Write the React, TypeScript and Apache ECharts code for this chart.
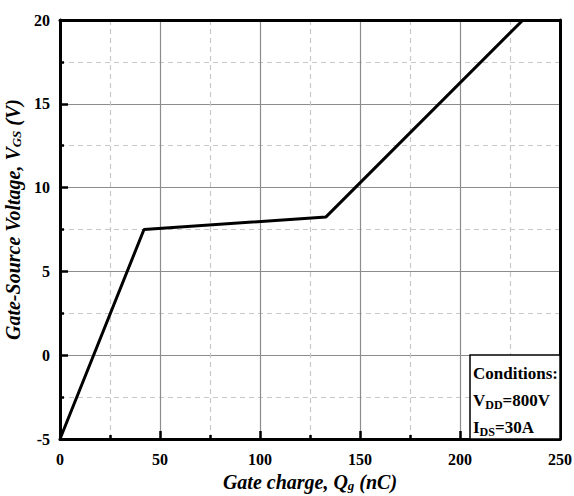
import React, { useEffect, useRef } from "react";
import * as echarts from "echarts";

const gateCharge = [0, 42, 133, 231.5];
const gateVoltage = [-5, 7.5, 8.25, 20];
const xTicks = [0, 50, 100, 150, 200, 250];
const yTicks = [-5, 0, 5, 10, 15, 20];
const conditionLines = ["Conditions:", "V_DD=800V", "I_DS=30A"];

const FONT = "Liberation Serif";

export default function App() {
  const ref = useRef<HTMLDivElement>(null);
  useEffect(() => {
    if (!ref.current) return;
    const chart = echarts.init(ref.current, null, { renderer: "svg" });
    const baseAxis = {
      type: "value" as const,
      axisLine: { show: true, onZero: false, lineStyle: { color: "#000", width: 3 } },
      axisTick: { show: true, inside: true, length: 8, lineStyle: { color: "#000", width: 2.5 } },
      minorTick: { show: true, splitNumber: 2, length: 4, lineStyle: { color: "#000", width: 2.5 } },
      splitLine: { show: true, lineStyle: { color: "#8c8c8c", width: 1.2 } },
      minorSplitLine: { show: true, lineStyle: { color: "#c8c8c8", width: 1.2, type: [5, 4] } },
      axisLabel: {
        fontFamily: FONT,
        fontWeight: "bold",
        fontSize: 16,
        color: "#000",
      },
      nameTextStyle: {
        fontFamily: FONT,
        fontWeight: "bold",
        fontStyle: "italic",
        fontSize: 20,
        color: "#000",
      },
    };
    const plainAxis = (pos: string) => ({
      type: "value" as const,
      position: pos,
      axisLine: { show: true, onZero: false, lineStyle: { color: "#000", width: 3 } },
      axisTick: { show: false },
      axisLabel: { show: false },
      splitLine: { show: false },
    });
    const [c0, c1, c2] = conditionLines;
    const toRich = (s: string) => {
      const [a, rest] = s.split("_");
      const m = rest.match(/^([A-Z]+)(=.*)$/);
      return `{b|${a}}{s|${m![1]}}{b|${m![2]}}`;
    };
    const sub = {
      fontFamily: FONT,
      fontWeight: "bold",
      fontStyle: "italic",
      fontSize: 13,
      color: "#000",
      verticalAlign: "bottom",
      padding: [8, 0, 0, 0],
    };
    const main = {
      fontFamily: FONT,
      fontWeight: "bold",
      fontStyle: "italic",
      fontSize: 20,
      color: "#000",
    };
    chart.setOption({
      animation: false,
      backgroundColor: "#fff",
      textStyle: { fontFamily: FONT },
      grid: {
        left: 60,
        right: 14,
        top: 20,
        bottom: 57,
        containLabel: false,
        outerBoundsMode: "none",
      },
      xAxis: [
        {
          ...baseAxis,
          min: xTicks[0],
          max: xTicks[xTicks.length - 1],
          interval: xTicks[1] - xTicks[0],
          position: "bottom",
          axisLabel: { ...baseAxis.axisLabel, margin: 12 },
          name: "{m|Gate charge, Q}{s|g}{m| (nC)}",
          nameLocation: "middle",
          nameGap: 30,
          nameTextStyle: { ...baseAxis.nameTextStyle, rich: { m: main, s: sub } },
        },
        { ...plainAxis("top"), min: xTicks[0], max: xTicks[xTicks.length - 1] },
      ],
      yAxis: [
        {
          ...baseAxis,
          min: yTicks[0],
          max: yTicks[yTicks.length - 1],
          interval: yTicks[1] - yTicks[0],
          position: "left",
          axisLabel: { ...baseAxis.axisLabel, margin: 10 },
          name: "{m|Gate-Source Voltage, V}{s|GS}{m| (V)}",
          nameLocation: "middle",
          nameRotate: 90,
          nameGap: 34,
          nameTextStyle: {
            ...baseAxis.nameTextStyle,
            padding: [0, 0, 0, 20],
            rich: { m: main, s: sub },
          },
        },
        { ...plainAxis("right"), min: yTicks[0], max: yTicks[yTicks.length - 1] },
      ],
      series: [
        {
          type: "line",
          data: gateCharge.map((x, i) => [x, gateVoltage[i]]),
          showSymbol: false,
          lineStyle: { color: "#000", width: 3 },
          z: 5,
        },
      ],
      graphic: [
        {
          type: "rect",
          shape: { x: 470, y: 355, width: 90, height: 84 },
          style: { fill: "#fff", stroke: "#000", lineWidth: 1.5 },
          z: 10,
        },
        {
          type: "text",
          x: 473,
          y: 360,
          z: 11,
          style: {
            text: `{b|${c0}}\n${toRich(c1)}\n${toRich(c2)}`,
            fontFamily: FONT,
            rich: {
              b: { fontFamily: FONT, fontWeight: "bold", fontSize: 17, color: "#000", lineHeight: 27 },
              s: {
                fontFamily: FONT,
                fontWeight: "bold",
                fontSize: 12,
                color: "#000",
                lineHeight: 27,
                padding: [8, 0, 0, 0],
              },
            },
          },
        },
      ],
    });
    return () => chart.dispose();
  }, []);
  return (
    <div
      ref={ref}
      style={{ position: "fixed", left: 0, top: 0, width: 574, height: 496, background: "#fff" }}
    />
  );
}
